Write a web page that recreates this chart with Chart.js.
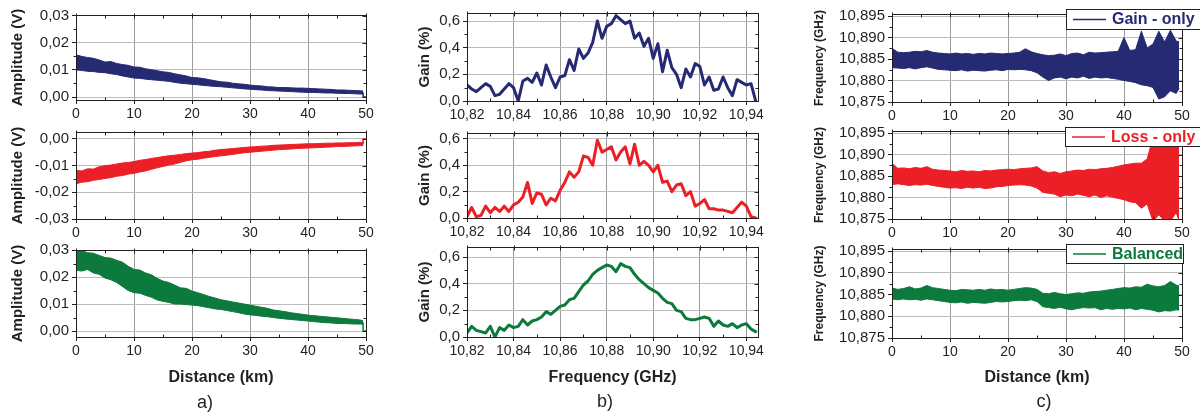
<!DOCTYPE html>
<html>
<head>
<meta charset="utf-8">
<script src="https://cdn.jsdelivr.net/npm/chart.js@4.4.0/dist/chart.umd.min.js"></script>
<style>
  body { margin: 0; background: #fff; width: 1200px; height: 412px; overflow: hidden; position: relative; font-family: 'Liberation Sans', Arial, sans-serif; }
  canvas { position: absolute; left: 0; top: 0; pointer-events: none; }
  .tag { position: absolute; font-size: 18px; color: #231f20; transform: translate(-50%, -50%); }
</style>
</head>
<body>
<canvas id="a1" width="1200" height="412"></canvas>
<canvas id="a2" width="1200" height="412"></canvas>
<canvas id="a3" width="1200" height="412"></canvas>
<canvas id="b1" width="1200" height="412"></canvas>
<canvas id="b2" width="1200" height="412"></canvas>
<canvas id="b3" width="1200" height="412"></canvas>
<canvas id="c1" width="1200" height="412"></canvas>
<canvas id="c2" width="1200" height="412"></canvas>
<canvas id="c3" width="1200" height="412"></canvas>
<div class="tag" style="left:205px;top:402px">a)</div>
<div class="tag" style="left:605px;top:401px">b)</div>
<div class="tag" style="left:1044px;top:401px">c)</div>
<script>
// distance axis (km), shared by columns a and c
const dist = [0,1,2,3,4,5,6,7,8,9,10,11,12,13,14,15,16,17,18,19,20,21,22,23,24,
  25,26,27,28,29,30,31,32,33,34,35,36,37,38,39,40,41,42,43,44,45,46,47,48,49,49.5];
const spikeX = [0, 0];
const tailX = [49.5, 49.5, 50];

// column a - amplitude envelopes (V)
const ampGainUp = [.0156,.0150,.0146,.0143,.0137,.0129,.0131,.0124,.0120,.0117,
  .0111,.0110,.0104,.0101,.0097,.0093,.0091,.0086,.0082,.0078,
  .0072,.0071,.0068,.0064,.0060,.0056,.0055,.0051,.0049,.0047,
  .0044,.0042,.0041,.0038,.0037,.0035,.0035,.0034,.0033,.0033,
  .0032,.0031,.0030,.0029,.0028,.0026,.0026,.0025,.0024,.0023,.0022];
const ampGainLo = [.0100,.0098,.0095,.0094,.0091,.0090,.0086,.0083,.0078,.0074,
  .0070,.0069,.0066,.0064,.0062,.0060,.0058,.0054,.0051,.0049,
  .0047,.0045,.0043,.0041,.0039,.0038,.0036,.0034,.0032,.0030,
  .0029,.0027,.0026,.0024,.0023,.0022,.0021,.0020,.0019,.0018,
  .0017,.0017,.0016,.0015,.0015,.0014,.0013,.0013,.0012,.0011,.0011];
const ampGainSpike = [0.0025, 0.0150];
const ampGainTail = [0.0015, 0, 0];

const ampLossUp = [-.0118,-.0120,-.0112,-.0113,-.0104,-.0100,-.0098,-.0094,-.0090,-.0088,
  -.0085,-.0080,-.0077,-.0073,-.0070,-.0066,-.0063,-.0061,-.0058,-.0055,
  -.0053,-.0051,-.0048,-.0046,-.0042,-.0040,-.0038,-.0036,-.0034,-.0032,
  -.0030,-.0029,-.0027,-.0026,-.0024,-.0023,-.0022,-.0021,-.0020,-.0019,
  -.0018,-.0018,-.0017,-.0016,-.0016,-.0015,-.0015,-.0014,-.0014,-.0013,-.0013];
const ampLossLo = [-.0168,-.0162,-.0160,-.0155,-.0152,-.0148,-.0145,-.0140,-.0137,-.0132,
  -.0129,-.0124,-.0120,-.0114,-.0108,-.0103,-.0098,-.0094,-.0088,-.0082,
  -.0078,-.0076,-.0072,-.0069,-.0066,-.0063,-.0061,-.0058,-.0055,-.0052,
  -.0050,-.0048,-.0046,-.0044,-.0042,-.0040,-.0039,-.0038,-.0036,-.0035,
  -.0034,-.0033,-.0032,-.0031,-.0030,-.0028,-.0028,-.0027,-.0026,-.0025,-.0025];
const ampLossSpike = [-0.0015, -0.0120];
const ampLossTail = [-0.0018, 0, 0];

const ampBalUp = [.0300,.0298,.0290,.0288,.0280,.0272,.0270,.0262,.0255,.0240,
  .0228,.0226,.0215,.0208,.0195,.0185,.0180,.0170,.0160,.0158,
  .0148,.0142,.0135,.0128,.0122,.0116,.0112,.0108,.0104,.0100,
  .0096,.0092,.0088,.0084,.0078,.0075,.0072,.0068,.0065,.0062,
  .0059,.0057,.0055,.0053,.0051,.0049,.0047,.0045,.0043,.0041,.0038];
const ampBalLo = [.0225,.0222,.0228,.0215,.0210,.0196,.0190,.0180,.0165,.0150,
  .0142,.0140,.0132,.0125,.0115,.0110,.0106,.0100,.0100,.0098,
  .0096,.0094,.0090,.0086,.0082,.0080,.0076,.0072,.0068,.0063,
  .0060,.0058,.0055,.0053,.0050,.0047,.0045,.0043,.0041,.0039,
  .0037,.0035,.0033,.0031,.0030,.0028,.0028,.0027,.0026,.0026,.0025];
const ampBalSpike = [0.0050, 0.0240];
const ampBalTail = [0.0030, 0, 0];

// column b - gain spectra (%)
const freq = [10.820,10.822,10.824,10.826,10.828,10.830,10.832,10.834,10.836,10.838,
  10.840,10.842,10.844,10.846,10.848,10.850,10.852,10.854,10.856,10.858,
  10.860,10.862,10.864,10.866,10.868,10.870,10.872,10.874,10.876,10.878,
  10.880,10.882,10.884,10.886,10.888,10.890,10.892,10.894,10.896,10.898,
  10.900,10.902,10.904,10.906,10.908,10.910,10.912,10.914,10.916,10.918,
  10.920,10.922,10.924,10.926,10.928,10.930,10.932,10.934,10.936,10.938,
  10.940,10.942,10.944];
const gainOnly = [0.12,0.09,0.07,0.10,0.13,0.11,0.04,0.05,0.09,0.13,
  0.10,0.00,0.15,0.17,0.14,0.21,0.12,0.27,0.18,0.10,
  0.18,0.19,0.31,0.23,0.39,0.32,0.36,0.44,0.60,0.47,
  0.56,0.58,0.64,0.61,0.58,0.60,0.47,0.51,0.41,0.47,
  0.32,0.43,0.22,0.38,0.25,0.20,0.10,0.24,0.18,0.28,
  0.26,0.12,0.18,0.08,0.09,0.18,0.10,0.04,0.16,0.14,
  0.12,0.13,0.00];
const lossOnly = [0.01,0.08,0.01,0.02,0.09,0.04,0.08,0.05,0.09,0.05,
  0.10,0.12,0.16,0.27,0.11,0.19,0.18,0.10,0.15,0.13,
  0.21,0.27,0.35,0.31,0.35,0.47,0.46,0.40,0.59,0.50,
  0.52,0.54,0.44,0.50,0.54,0.41,0.56,0.40,0.43,0.40,
  0.35,0.40,0.27,0.28,0.20,0.25,0.26,0.17,0.20,0.09,
  0.11,0.14,0.07,0.07,0.06,0.06,0.05,0.04,0.08,0.12,
  0.09,0.01,0.00];
const balanced = [0.03,0.08,0.05,0.04,0.03,0.08,0.00,0.07,0.05,0.09,
  0.07,0.08,0.13,0.09,0.12,0.13,0.15,0.19,0.17,0.20,
  0.23,0.24,0.28,0.29,0.34,0.39,0.42,0.47,0.50,0.52,
  0.54,0.53,0.49,0.55,0.53,0.52,0.47,0.43,0.40,0.37,
  0.35,0.33,0.29,0.26,0.25,0.20,0.19,0.14,0.13,0.13,
  0.14,0.15,0.14,0.08,0.12,0.09,0.08,0.10,0.07,0.09,
  0.10,0.06,0.04];

// column c - BFS envelopes (GHz)
const bfsGainUp = [10.8875,10.8866,10.8865,10.8866,10.8868,10.8867,10.8870,10.8866,10.8864,10.8863,
  10.8862,10.8864,10.8862,10.8863,10.8861,10.8863,10.8862,10.8864,10.8863,10.8862,
  10.8863,10.8864,10.8866,10.8874,10.8867,10.8863,10.8860,10.8858,10.8859,10.8862,
  10.8858,10.8863,10.8864,10.8860,10.8866,10.8864,10.8865,10.8866,10.8867,10.8868,
  10.8900,10.8870,10.8872,10.8915,10.8876,10.8885,10.8915,10.8890,10.8917,10.8892,10.8890];
const bfsGainLo = [10.8830,10.8829,10.8828,10.8830,10.8827,10.8830,10.8832,10.8829,10.8826,10.8825,
  10.8824,10.8823,10.8825,10.8822,10.8824,10.8823,10.8822,10.8824,10.8825,10.8823,
  10.8826,10.8825,10.8826,10.8825,10.8823,10.8818,10.8808,10.8800,10.8806,10.8808,
  10.8804,10.8808,10.8806,10.8810,10.8805,10.8808,10.8806,10.8807,10.8805,10.8803,
  10.8800,10.8798,10.8795,10.8790,10.8788,10.8784,10.8757,10.8762,10.8776,10.8770,10.8782];
const bfsGainSpike = [10.8830, 10.8905];

const bfsLossUp = [10.8880,10.8868,10.8869,10.8867,10.8870,10.8868,10.8872,10.8866,10.8864,10.8863,
  10.8862,10.8860,10.8863,10.8861,10.8862,10.8860,10.8863,10.8862,10.8864,10.8865,
  10.8866,10.8865,10.8867,10.8868,10.8869,10.8872,10.8862,10.8858,10.8860,10.8856,
  10.8860,10.8862,10.8864,10.8863,10.8866,10.8865,10.8867,10.8868,10.8870,10.8873,
  10.8876,10.8878,10.8880,10.8880,10.8890,10.8940,10.8965,10.8935,10.8965,10.8965,10.8965];
const bfsLossLo = [10.8830,10.8832,10.8830,10.8828,10.8830,10.8829,10.8831,10.8828,10.8826,10.8824,
  10.8822,10.8823,10.8821,10.8824,10.8822,10.8824,10.8821,10.8822,10.8825,10.8826,
  10.8828,10.8829,10.8830,10.8829,10.8827,10.8822,10.8812,10.8810,10.8808,10.8802,
  10.8806,10.8804,10.8808,10.8805,10.8802,10.8806,10.8800,10.8804,10.8801,10.8798,
  10.8795,10.8790,10.8788,10.8775,10.8785,10.8745,10.8760,10.8745,10.8745,10.8765,10.8745];
const bfsLossSpike = [10.8830, 10.8925];

const bfsBalUp = [10.8865,10.8862,10.8864,10.8868,10.8863,10.8865,10.8871,10.8866,10.8864,10.8862,
  10.8860,10.8859,10.8862,10.8861,10.8860,10.8862,10.8860,10.8863,10.8861,10.8862,
  10.8860,10.8862,10.8864,10.8866,10.8865,10.8862,10.8853,10.8852,10.8855,10.8852,
  10.8850,10.8852,10.8854,10.8853,10.8856,10.8857,10.8858,10.8860,10.8862,10.8864,
  10.8866,10.8865,10.8868,10.8867,10.8874,10.8870,10.8868,10.8871,10.8880,10.8872,10.8870];
const bfsBalLo = [10.8840,10.8838,10.8840,10.8838,10.8839,10.8837,10.8840,10.8838,10.8836,10.8834,
  10.8832,10.8831,10.8833,10.8830,10.8832,10.8831,10.8830,10.8832,10.8834,10.8833,
  10.8834,10.8836,10.8837,10.8836,10.8838,10.8834,10.8822,10.8820,10.8818,10.8821,
  10.8817,10.8815,10.8818,10.8820,10.8819,10.8820,10.8815,10.8818,10.8816,10.8818,
  10.8817,10.8819,10.8815,10.8818,10.8816,10.8814,10.8810,10.8813,10.8812,10.8815,10.8814];
const bfsBalSpike = [10.8840, 10.8910];

// tick positions
const kmTicks = [0, 10, 20, 30, 40, 50];
const kmMinor = [5, 15, 25, 35, 45];
const ampTicksPos = [0, 0.01, 0.02, 0.03];
const ampTicksNeg = [-0.03, -0.02, -0.01, 0];
const ampMinorPos = [0.005, 0.015, 0.025];
const ampMinorNeg = [-0.025, -0.015, -0.005];
const freqTicks = [10.82, 10.84, 10.86, 10.88, 10.90, 10.92, 10.94];
const freqMinor = [10.83, 10.85, 10.87, 10.89, 10.91, 10.93];
const gainTicks = [0, 0.2, 0.4, 0.6];
const gainMinor = [0.1, 0.3, 0.5];
const bfsTicks = [10.875, 10.880, 10.885, 10.890, 10.895];
const bfsMinor = [10.8775, 10.8825, 10.8875, 10.8925];

const BLUE = '#252a72';
const RED = '#ec1f26';
const GREEN = '#0b7a3c';
const INK = '#231f20';
const GRID_X = '#9c9c9c';
const GRID_Y = '#bcbcbc';

Chart.defaults.font.family = "'Liberation Sans', Arial, sans-serif";
Chart.defaults.color = INK;

const comma = d => v => v.toFixed(d).replace('.', ',');
const pts = (xs, ys) => xs.map((x, i) => ({ x: x, y: ys[i] }));

// filled band between upper and lower envelope
function band(up, lo, color) {
  return [
    { data: pts(dist, up), borderColor: color, backgroundColor: color, borderWidth: 1, fill: '+1' },
    { data: pts(dist, lo), borderColor: color, borderWidth: 1, fill: false }
  ];
}
function trace(xs, ys, color, w) {
  return { data: pts(xs, ys), borderColor: color, borderWidth: w, borderJoinStyle: 'round', borderCapStyle: 'round', fill: false };
}

// box round the plot plus minor ticks
const framePlugin = {
  id: 'frame',
  afterDraw(chart, args, o) {
    const { ctx, chartArea: a, scales: { x, y } } = chart;
    const L = Math.round(a.left) + 0.5, T = Math.round(a.top) + 0.5;
    const R = Math.round(a.right) + 0.5, B = Math.round(a.bottom) + 0.5;
    ctx.save();
    ctx.strokeStyle = INK;
    ctx.lineWidth = 1;
    ctx.strokeRect(L, T, R - L, B - T);
    ctx.beginPath();
    for (const v of o.xMinor) {
      const px = Math.round(x.getPixelForValue(v)) + 0.5;
      ctx.moveTo(px, B); ctx.lineTo(px, B - 3);
      ctx.moveTo(px, T); ctx.lineTo(px, T + 3);
    }
    for (const t of x.ticks) {
      const px = Math.round(x.getPixelForValue(t.value)) + 0.5;
      ctx.moveTo(px, T - 2); ctx.lineTo(px, T + 3);
    }
    for (const v of o.yMinor) {
      const py = Math.round(y.getPixelForValue(v)) + 0.5;
      ctx.moveTo(L - 3, py); ctx.lineTo(L, py);
      ctx.moveTo(R, py); ctx.lineTo(R - 3, py);
    }
    for (const t of y.ticks) {
      const py = Math.round(y.getPixelForValue(t.value)) + 0.5;
      ctx.moveTo(R, py); ctx.lineTo(R - 4, py);
    }
    ctx.stroke();
    ctx.restore();
  }
};

// boxed legend in the top right corner
const boxLegend = {
  id: 'boxLegend',
  afterDraw(chart, args, o) {
    const ctx = chart.ctx;
    const mid = o.y + o.h / 2;
    ctx.save();
    ctx.fillStyle = '#fff';
    ctx.fillRect(o.x, o.y, o.w, o.h);
    ctx.strokeStyle = INK;
    ctx.lineWidth = 1;
    ctx.strokeRect(o.x + 0.5, o.y + 0.5, o.w, o.h);
    ctx.strokeStyle = o.color;
    ctx.lineWidth = 1.5;
    ctx.beginPath();
    ctx.moveTo(o.x + 7, mid + 0.5);
    ctx.lineTo(o.x + 40, mid + 0.5);
    ctx.stroke();
    ctx.fillStyle = o.color;
    ctx.font = "bold 16px 'Liberation Sans', Arial, sans-serif";
    ctx.textBaseline = 'middle';
    ctx.fillText(o.text, o.x + 46, mid + 1);
    ctx.restore();
  }
};

function makePanel(id, box, p) {
  const [l, t, r, b] = box;
  const plugins = [framePlugin];
  if (p.legend) plugins.push(boxLegend);
  return new Chart(document.getElementById(id), {
    type: 'line',
    data: { datasets: p.datasets },
    options: {
      responsive: false,
      animation: false,
      events: [],
      layout: { padding: { left: l - p.yW, top: t, right: 1200 - r, bottom: 412 - b - p.xH } },
      elements: { point: { radius: 0 }, line: { tension: 0 } },
      plugins: {
        legend: { display: false },
        tooltip: { enabled: false },
        frame: { xMinor: p.xMinor, yMinor: p.yMinor },
        boxLegend: p.legend || {}
      },
      scales: {
        x: {
          type: 'linear', min: p.xMin, max: p.xMax,
          afterBuildTicks: s => { s.ticks = p.xTicks.map(v => ({ value: v })); },
          afterFit: s => { s.height = p.xH; },
          ticks: { autoSkip: false, maxRotation: 0, padding: 2, font: { size: 14 }, callback: p.xFmt },
          grid: { color: GRID_X, tickColor: INK, tickLength: 4 },
          border: { display: false },
          title: { display: !!p.xTitle, text: p.xTitle || '', font: { size: 16, weight: 'bold' }, padding: { top: 4, bottom: 0 } }
        },
        y: {
          type: 'linear', min: p.yMin, max: p.yMax,
          afterBuildTicks: s => { s.ticks = p.yTicks.map(v => ({ value: v })); },
          afterFit: s => { s.width = p.yW; },
          ticks: { autoSkip: false, padding: 3, font: { size: 15 }, callback: p.yFmt },
          grid: { color: GRID_Y, tickColor: INK, tickLength: 4 },
          border: { display: false },
          title: { display: true, text: p.yTitle, font: { size: p.yTitleSize, weight: 'bold' }, padding: { top: p.yTitlePad, bottom: 0 } }
        }
      }
    },
    plugins: plugins
  });
}

const kmFmt = v => String(v);

// column a
const colA = { yW: 76, xMin: 0, xMax: 50, xTicks: kmTicks, xMinor: kmMinor, xFmt: kmFmt,
  yFmt: comma(2), yTitle: 'Amplitude (V)', yTitleSize: 15, yTitlePad: 9 };
makePanel('a1', [76, 15, 366, 100], Object.assign({}, colA, {
  xH: 20, yMin: -0.0011, yMax: 0.0303, yTicks: ampTicksPos, yMinor: ampMinorPos,
  datasets: band(ampGainUp, ampGainLo, BLUE).concat([trace(spikeX, ampGainSpike, BLUE, 1.5), trace(tailX, ampGainTail, BLUE, 1.5)])
}));
makePanel('a2', [76, 132, 366, 219], Object.assign({}, colA, {
  xH: 20, yMin: -0.03, yMax: 0.0026, yTicks: ampTicksNeg, yMinor: ampMinorNeg,
  datasets: band(ampLossUp, ampLossLo, RED).concat([trace(spikeX, ampLossSpike, RED, 1.5), trace(tailX, ampLossTail, RED, 1.5)])
}));
makePanel('a3', [76, 250, 366, 337], Object.assign({}, colA, {
  xH: 50, xTitle: 'Distance (km)', yMin: -0.0022, yMax: 0.03, yTicks: ampTicksPos, yMinor: ampMinorPos,
  datasets: band(ampBalUp, ampBalLo, GREEN).concat([trace(spikeX, ampBalSpike, GREEN, 1.5), trace(tailX, ampBalTail, GREEN, 1.5)])
}));

// column b
const colB = { yW: 60, xMin: 10.82, xMax: 10.945, xTicks: freqTicks, xMinor: freqMinor, xFmt: comma(2),
  yMin: 0, yTicks: gainTicks, yMinor: gainMinor, yFmt: comma(1), yTitle: 'Gain (%)', yTitleSize: 15, yTitlePad: 9 };
makePanel('b1', [467, 13, 758, 101], Object.assign({}, colB, {
  xH: 20, yMax: 0.66, datasets: [trace(freq, gainOnly, BLUE, 3)]
}));
makePanel('b2', [467, 133, 758, 218], Object.assign({}, colB, {
  xH: 20, yMax: 0.645, datasets: [trace(freq, lossOnly, RED, 3)]
}));
makePanel('b3', [467, 247, 758, 337], Object.assign({}, colB, {
  xH: 50, xTitle: 'Frequency (GHz)', yMax: 0.675, datasets: [trace(freq, balanced, GREEN, 3)]
}));

// column c
const colC = { yW: 84, xMin: 0, xMax: 50, xTicks: kmTicks, xMinor: kmMinor, xFmt: kmFmt,
  yMin: 10.875, yMax: 10.8955, yTicks: bfsTicks, yMinor: bfsMinor, yFmt: comma(3),
  yTitle: 'Frequency (GHz)', yTitleSize: 12, yTitlePad: 4 };
makePanel('c1', [892, 14, 1182, 102], Object.assign({}, colC, {
  xH: 20, datasets: band(bfsGainUp, bfsGainLo, BLUE).concat([trace(spikeX, bfsGainSpike, BLUE, 1.5)]),
  legend: { text: 'Gain - only', color: BLUE, x: 1066, y: 9, w: 140, h: 20 }
}));
makePanel('c2', [892, 131, 1182, 219], Object.assign({}, colC, {
  xH: 20, datasets: band(bfsLossUp, bfsLossLo, RED).concat([trace(spikeX, bfsLossSpike, RED, 1.5)]),
  legend: { text: 'Loss - only', color: RED, x: 1065, y: 127, w: 140, h: 19 }
}));
makePanel('c3', [892, 249, 1182, 338], Object.assign({}, colC, {
  xH: 49, xTitle: 'Distance (km)', datasets: band(bfsBalUp, bfsBalLo, GREEN).concat([trace(spikeX, bfsBalSpike, GREEN, 1.5)]),
  legend: { text: 'Balanced', color: GREEN, x: 1066, y: 244, w: 117, h: 19 }
}));
</script>
</body>
</html>
